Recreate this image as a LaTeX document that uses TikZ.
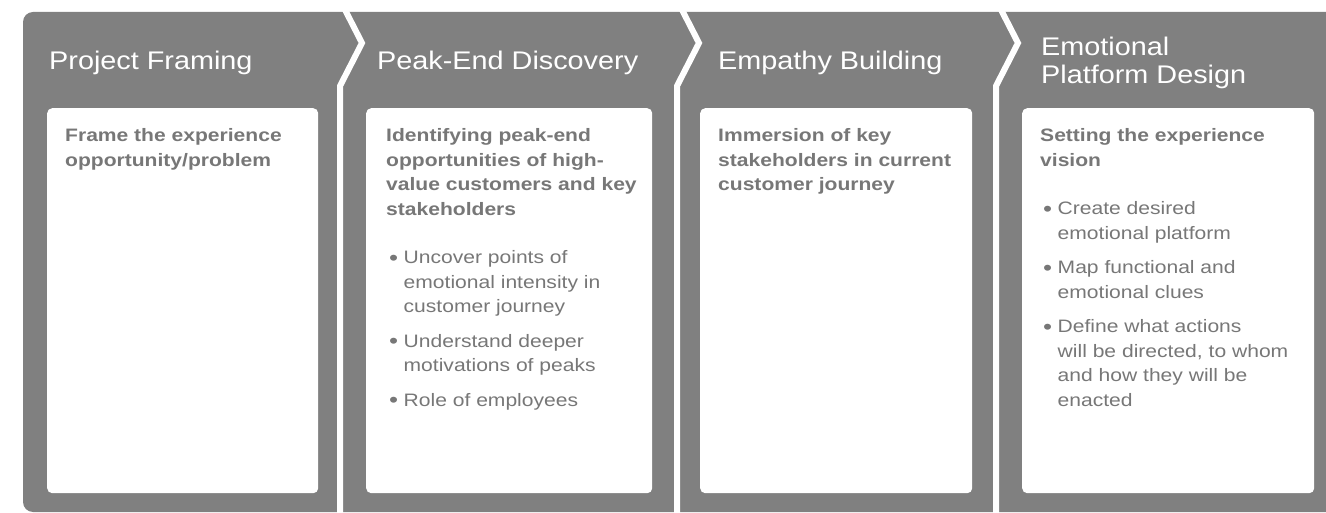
\documentclass[tikz,border=0pt]{standalone}
\usepackage{fontspec}
\setmainfont{Liberation Sans}
\newfontfamily\titlefont[FakeStretch=1.13]{Liberation Sans}
\newfontfamily\bodyfont[FakeStretch=1.17]{Liberation Sans}
\usetikzlibrary{positioning}
\definecolor{stagegray}{HTML}{808080}
\definecolor{stagetext}{HTML}{777777}
\newcommand{\stagebul}{\makebox[17.5pt][l]{\hspace{3pt}\raisebox{-1.5pt}{\fontsize{22}{22}\selectfont\textbullet}}}
\newcommand{\stageind}{\hspace*{17.5pt}}
\tikzset{
  stagebg/.style={fill=stagegray,rounded corners=10pt},
  stagesep/.style={draw=white,line width=6pt,line join=miter},
  stagebox/.style={fill=white,rounded corners=5pt,anchor=north west,inner sep=0pt},
  stagetitle/.style={text=white,font=\titlefont\fontsize{25.5}{28}\selectfont,inner sep=0pt,align=left},
  stagelead/.style={text=stagetext,font=\bodyfont\bfseries\fontsize{18}{24.5}\selectfont,anchor=north west,inner sep=0pt,align=left},
  stagelist/.style={text=stagetext,font=\bodyfont\fontsize{18}{24.5}\selectfont,inner sep=0pt,align=left}
}

\begin{document}
\begin{tikzpicture}[x=1pt,y=-1pt]
\useasboundingbox (0,0) rectangle (1326,513);
\clip (0,0) rectangle (1326,513);
\fill[stagebg] (23,12) rectangle (1350,512);
\foreach \x in {340,677,996}{\draw[stagesep] (\x,0) -- (\x+22,43) -- (\x,86) -- (\x,520);}
% stage titles
\node[stagetitle,anchor=base west] (t1) at (49,70) {Project Framing};
\node[stagetitle,anchor=base west] (t2) at (377,70) {Peak-End Discovery};
\node[stagetitle,anchor=base west] (t3) at (718,70) {Empathy Building};
\node[stagetitle,anchor=north west] (t4) at (1041,36.6) {Emotional\\Platform Design};
% white cards
\node[stagebox,minimum width=271pt,minimum height=385pt] (box1) at (47,108) {};
\node[stagebox,minimum width=286pt,minimum height=385pt] (box2) at (366,108) {};
\node[stagebox,minimum width=272pt,minimum height=385pt] (box3) at (700,108) {};
\node[stagebox,minimum width=292pt,minimum height=385pt] (box4) at (1022,108) {};
% card texts
\node[stagelead,below right=20.6pt and 18pt of box1.north west] (lead1) {Frame the experience\\opportunity/problem};
\node[stagelead,below right=20.6pt and 20pt of box2.north west] (lead2) {Identifying peak-end\\opportunities of high-\\value customers and key\\stakeholders};
\node[stagelist,below=35pt of lead2.south west,anchor=north west] (list2) {\stagebul Uncover points of\\\stageind emotional intensity in\\\stageind customer journey\\[10pt]
  \stagebul Understand deeper\\\stageind motivations of peaks\\[10pt]
  \stagebul Role of employees};
\node[stagelead,below right=20.6pt and 18pt of box3.north west] (lead3) {Immersion of key\\stakeholders in current\\customer journey};
\node[stagelead,below right=20.6pt and 18pt of box4.north west] (lead4) {Setting the experience\\vision};
\node[stagelist,below=35pt of lead4.south west,anchor=north west] (list4) {\stagebul Create desired\\\stageind emotional platform\\[10pt]
  \stagebul Map functional and\\\stageind emotional clues\\[10pt]
  \stagebul Define what actions\\\stageind will be directed, to whom\\\stageind and how they will be\\\stageind enacted};
\end{tikzpicture}
\end{document}
